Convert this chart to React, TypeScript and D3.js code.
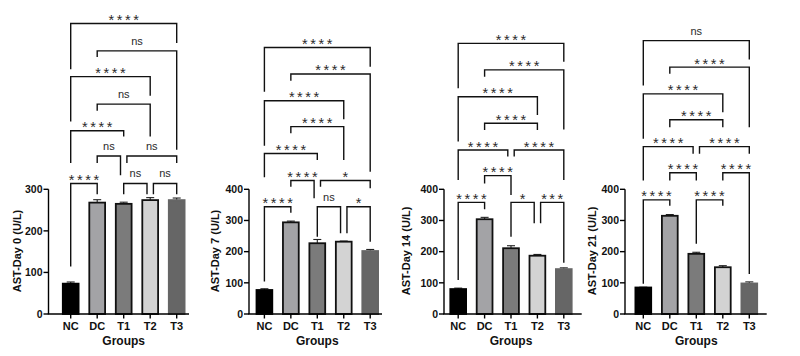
import React from 'react';
import * as d3 from 'd3';

// ---------- DATA ----------
const groups = ['NC', 'DC', 'T1', 'T2', 'T3'];

const day0Means = [73, 268, 265, 274, 274];
const day0Errors = [4, 7, 4, 6, 5];
const day7Means = [77, 294, 227, 232, 202];
const day7Errors = [4, 4, 12, 2, 5];
const day14Means = [80, 304, 211, 187, 144];
const day14Errors = [3, 6, 8, 4, 4];
const day21Means = [85, 315, 193, 150, 98];
const day21Errors = [1, 4, 5, 5, 5];

const yTitles = ['AST-Day 0 (U/L)', 'AST-Day 7 (U/L)', 'AST-Day 14 (U/L)', 'AST-Day 21 (U/L)'];
const yMaxes = [300, 400, 400, 400];
const yTicks0 = [0, 100, 200, 300];
const yTicks = [0, 100, 200, 300, 400];
const xTitle = 'Groups';

// Significance brackets: [fromGroup, toGroup, label, level, leftLegEnd, rightLegEnd, leftShift, rightShift]
// level and leg ends are in U/L (data units of the y axis)
type Bracket = [number, number, string, number, number, number, number, number];

const day0Brackets: Bracket[] = [
  [0, 4, '****', 699, 589, 652, 0, 0],
  [1, 4, 'ns', 633, 618, 395, 0, 0],
  [0, 3, '****', 571, 463, 525, 0, 0],
  [1, 3, 'ns', 505, 489, 427, 0, 0],
  [0, 2, '****', 441, 363, 427, 0, 0],
  [1, 2, 'ns', 380, 363, 334, 0, -1],
  [2, 4, 'ns', 380, 363, 363, 1, 0],
  [0, 1, '****', 314, 114, 288, 0, 0],
  [2, 3, 'ns', 314, 288, 288, 0, -1],
  [3, 4, 'ns', 314, 288, 288, 1, 0],
];
const day7Brackets: Bracket[] = [
  [0, 4, '****', 855, 713, 793, 0, 0],
  [1, 4, '****', 770, 748, 456, 0, 0],
  [0, 3, '****', 684, 540, 625, 0, 0],
  [1, 3, '****', 601, 580, 494, 0, 0],
  [0, 2, '****', 515, 439, 494, 0, 0],
  [1, 2, '****', 428, 408, 371, 0, -1],
  [2, 4, '*', 428, 408, 403, 1, 0],
  [0, 1, '****', 344, 104, 325, 0, 0],
  [2, 3, 'ns', 344, 248, 259, 0, -1],
  [3, 4, '*', 344, 259, 232, 1, 0],
];
const day14Brackets: Bracket[] = [
  [0, 4, '****', 868, 724, 809, 0, 0],
  [1, 4, '****', 783, 761, 592, 0, 0],
  [0, 3, '****', 697, 553, 638, 0, 0],
  [1, 3, '****', 612, 590, 590, 0, 0],
  [0, 2, '****', 526, 430, 505, 0, -1],
  [2, 4, '****', 526, 505, 430, 1, 0],
  [1, 2, '****', 444, 419, 382, 0, 0],
  [0, 1, '****', 358, 109, 336, 0, 0],
  [2, 3, '*', 358, 248, 291, 0, -1],
  [3, 4, '***', 358, 291, 164, 1, 0],
];
const day21Brackets: Bracket[] = [
  [0, 4, 'ns', 877, 733, 816, 0, 0],
  [1, 4, '****', 792, 771, 599, 0, 0],
  [0, 3, '****', 706, 562, 647, 0, 0],
  [1, 3, '****', 623, 599, 599, 0, 0],
  [0, 2, '****', 537, 428, 514, 0, -1],
  [2, 4, '****', 537, 514, 514, 1, 0],
  [1, 2, '****', 453, 428, 428, 0, 0],
  [3, 4, '****', 453, 428, 128, 0, 0],
  [0, 1, '****', 366, 97, 347, 0, 0],
  [2, 3, '****', 366, 225, 347, 0, 0],
];

const means = [day0Means, day7Means, day14Means, day21Means];
const errors = [day0Errors, day7Errors, day14Errors, day21Errors];
const brackets = [day0Brackets, day7Brackets, day14Brackets, day21Brackets];
const tickSets = [yTicks0, yTicks, yTicks, yTicks];

// ---------- LAYOUT / STYLE ----------
const W = 800;
const H = 356;
const Y0 = 314;
const YTOP = 189.3;
const layouts = [
  { axisX: 48.5, firstX: 70.7, lastX: 176.7, axisEnd: 189, titleX: 17 },
  { axisX: 249, firstX: 264.4, lastX: 370.2, axisEnd: 382, titleX: 215.5 },
  { axisX: 444, firstX: 458.2, lastX: 563.8, axisEnd: 581.7, titleX: 406 },
  { axisX: 625, firstX: 643.3, lastX: 749.3, axisEnd: 766.7, titleX: 592 },
];
const barFills = ['#000000', '#a3a3a6', '#7b7b7b', '#d3d3d3', '#666666'];
const barStrokes = ['#000000', '#111111', '#111111', '#111111', '#666666'];
const FONT = "'Liberation Sans', Arial, Helvetica, sans-serif";
const BAR_W = 15.8;
const SHIFT = 3.2;

function Panel({ idx }: { idx: number }) {
  const L = layouts[idx];
  const x = d3.scalePoint<string>().domain(groups).range([L.firstX, L.lastX]);
  const y = d3.scaleLinear().domain([0, yMaxes[idx]]).range([Y0, YTOP]);
  const vals = means[idx];
  const errs = errors[idx];
  const midX = x(groups[2]) as number;

  return (
    <g>
      {/* bars */}
      {groups.map((g, i) => {
        const cx = x(g) as number;
        const top = y(vals[i]);
        return (
          <g key={g}>
            <line x1={cx} x2={cx} y1={top} y2={y(vals[i] + errs[i])} stroke="#222" strokeWidth={1.1} />
            <line x1={cx - 4} x2={cx + 4} y1={y(vals[i] + errs[i])} y2={y(vals[i] + errs[i])} stroke="#222" strokeWidth={1.1} />
            <rect
              x={cx - BAR_W / 2}
              y={top}
              width={BAR_W}
              height={Y0 - top}
              fill={barFills[i]}
              stroke={barStrokes[i]}
              strokeWidth={1.8}
            />
          </g>
        );
      })}
      {/* y axis */}
      <line x1={L.axisX} x2={L.axisX} y1={YTOP} y2={Y0} stroke="#000" strokeWidth={1.4} />
      {tickSets[idx].map((t) => (
        <g key={t}>
          <line x1={L.axisX - 5} x2={L.axisX} y1={y(t)} y2={y(t)} stroke="#000" strokeWidth={1.4} />
          <text
            x={L.axisX - 6}
            y={y(t)}
            dy="0.36em"
            textAnchor="end"
            fontFamily={FONT}
            fontWeight="bold"
            fontSize={10.5}
            fill="#111"
          >
            {t}
          </text>
        </g>
      ))}
      {/* x axis */}
      <line x1={L.axisX - 0.7} x2={L.axisEnd} y1={Y0} y2={Y0} stroke="#000" strokeWidth={1.4} />
      {groups.map((g) => (
        <g key={g}>
          <line x1={x(g) as number} x2={x(g) as number} y1={Y0} y2={Y0 + 4.5} stroke="#000" strokeWidth={1.4} />
          <text
            x={x(g) as number}
            y={329.5}
            textAnchor="middle"
            fontFamily={FONT}
            fontWeight="bold"
            fontSize={11}
            fill="#111"
          >
            {g}
          </text>
        </g>
      ))}
      <text x={midX} y={344.5} textAnchor="middle" fontFamily={FONT} fontWeight="bold" fontSize={12} fill="#111">
        {xTitle}
      </text>
      <text
        transform={`translate(${L.titleX},${251}) rotate(-90)`}
        textAnchor="middle"
        dy="0.35em"
        fontFamily={FONT}
        fontWeight="bold"
        fontSize={11}
        fill="#111"
      >
        {yTitles[idx]}
      </text>
      {/* significance brackets */}
      {brackets[idx].map((b, k) => {
        const [from, to, label, level, le, re, sl, sr] = b;
        const xl = (x(groups[from]) as number) + sl * SHIFT;
        const xr = (x(groups[to]) as number) + sr * SHIFT;
        const yh = y(level);
        const path = d3.path();
        path.moveTo(xl, y(le));
        path.lineTo(xl, yh);
        path.lineTo(xr, yh);
        path.lineTo(xr, y(re));
        const isStar = label.indexOf('*') >= 0;
        const ls = isStar ? 2.6 : 0;
        return (
          <g key={k}>
            <path d={path.toString()} fill="none" stroke="#111" strokeWidth={1.4} />
            <text
              x={(xl + xr) / 2 + ls / 2}
              y={isStar ? yh + 1.5 : yh - 6}
              textAnchor="middle"
              fontFamily={FONT}
              fontSize={isStar ? 14.5 : 11}
              letterSpacing={ls}
              fill="#2a2a2a"
            >
              {label}
            </text>
          </g>
        );
      })}
    </g>
  );
}

export default function App() {
  return (
    <svg
      width={W}
      height={H}
      viewBox={`0 0 ${W} ${H}`}
      style={{ position: 'absolute', left: 0, top: 0, background: '#fff' }}
    >
      <rect x={0} y={0} width={W} height={H} fill="#fff" />
      {layouts.map((_, i) => (
        <Panel key={i} idx={i} />
      ))}
    </svg>
  );
}
